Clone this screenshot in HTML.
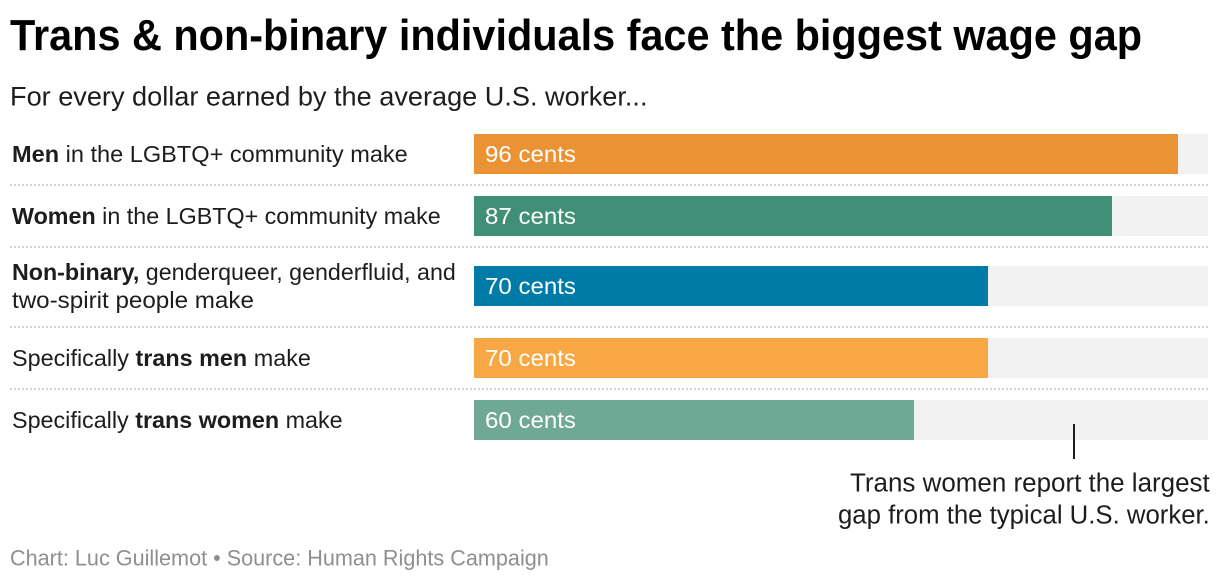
<!DOCTYPE html>
<html lang="en">
<head>
<meta charset="utf-8">
<title>Trans &amp; non-binary individuals face the biggest wage gap</title>
<style>
html,body{margin:0;padding:0;background:#fff;width:1220px;height:582px;overflow:hidden}
svg{display:block}
text{font-family:"Liberation Sans",sans-serif;fill:#1d1d1d}
</style>
</head>
<body>
<svg id="chart" width="1220" height="582" viewBox="0 0 1220 582">
  <text class="fit" data-x="10" data-y="50" data-w="1132" font-size="43.6" font-weight="700" style="fill:#000">Trans &amp; non-binary individuals face the biggest wage gap</text>
  <text class="fit" data-x="10" data-y="105.5" data-w="638" font-size="27">For every dollar earned by the average U.S. worker...</text>

  <text class="fit" data-x="12" data-y="162" data-w="396" font-size="23"><tspan font-weight="700">Men</tspan> in the LGBTQ+ community make</text>
  <text class="fit" data-x="12" data-y="224" data-w="429" font-size="23"><tspan font-weight="700">Women</tspan> in the LGBTQ+ community make</text>
  <text class="fit" data-x="12" data-y="280" data-w="444" font-size="23"><tspan font-weight="700">Non-binary,</tspan> genderqueer, genderfluid, and</text>
  <text class="fit" data-x="12" data-y="308" data-w="242" font-size="23">two-spirit people make</text>
  <text class="fit" data-x="12" data-y="366" data-w="299" font-size="23">Specifically <tspan font-weight="700">trans men</tspan> make</text>
  <text class="fit" data-x="12" data-y="428" data-w="331" font-size="23">Specifically <tspan font-weight="700">trans women</tspan> make</text>

  <g id="bars"></g>

  <rect x="1073" y="424" width="2" height="35" fill="#1d1d1d"></rect>
  <text class="fit" data-x="850" data-y="491.7" data-w="360" font-size="26">Trans women report the largest</text>
  <text class="fit" data-x="838" data-y="523.5" data-w="372" font-size="26">gap from the typical U.S. worker.</text>

  <text class="fit" data-x="10" data-y="565.7" data-w="539" font-size="22.5" style="fill:#8f8f8f">Chart: Luc Guillemot • Source: Human Rights Campaign</text>
</svg>
<script>
const categories = ['men', 'women', 'non-binary', 'trans-men', 'trans-women'];
const cents = [96, 87, 70, 70, 60];
const barColors = ['#EB9234', '#408F77', '#007BA8', '#F7A845', '#6FA995'];
const labelLines = [1, 1, 2, 1, 1];

const NS = 'http://www.w3.org/2000/svg';
const plotLeft = 474;
const plotWidth = 734;
const maxCents = 100;
const barHeight = 40;
const xScale = function (v) { return Math.round(733.6 * v / maxCents); };
const barsGroup = document.getElementById('bars');

let rowTop = 123;
categories.forEach(function (cat, i) {
  const extra = (labelLines[i] - 1);
  const barTop = rowTop + 11 + extra * 8;
  const rowHeight = 62 + extra * 18;

  const track = document.createElementNS(NS, 'rect');
  track.setAttribute('x', plotLeft);
  track.setAttribute('y', barTop);
  track.setAttribute('width', plotWidth);
  track.setAttribute('height', barHeight);
  track.setAttribute('fill', '#F2F2F2');
  
  
  barsGroup.appendChild(track);

  const bar = document.createElementNS(NS, 'rect');
  bar.setAttribute('x', plotLeft);
  bar.setAttribute('y', barTop);
  bar.setAttribute('width', xScale(cents[i]));
  bar.setAttribute('height', barHeight);
  bar.setAttribute('fill', barColors[i]);
  
  
  barsGroup.appendChild(bar);

  const value = document.createElementNS(NS, 'text');
  value.setAttribute('class', 'fit');
  value.setAttribute('data-x', plotLeft + 11);
  value.setAttribute('data-y', barTop + 28);
  value.setAttribute('data-w', 91);
  value.setAttribute('font-size', '23');
  value.style.fill = '#fff';
  value.textContent = cents[i] + ' cents';
  
  
  barsGroup.appendChild(value);

  rowTop += rowHeight;

  if (i < categories.length - 1) {
    const sep = document.createElementNS(NS, 'line');
    sep.setAttribute('x1', 10);
    sep.setAttribute('x2', plotLeft + plotWidth);
    sep.setAttribute('y1', rowTop);
    sep.setAttribute('y2', rowTop);
    sep.setAttribute('stroke', '#d4d4d4');
    sep.setAttribute('stroke-width', 2);
    sep.setAttribute('stroke-dasharray', '2 2');
    
    
    barsGroup.appendChild(sep);
  }
});

document.querySelectorAll('text.fit').forEach(function (t) {
  const natural = t.getComputedTextLength();
  const sx = Number(t.getAttribute('data-w')) / natural;
  t.setAttribute('transform', 'translate(' + t.getAttribute('data-x') + ' ' + t.getAttribute('data-y') + ') scale(' + sx + ' 1)');
});
</script>
</body>
</html>
